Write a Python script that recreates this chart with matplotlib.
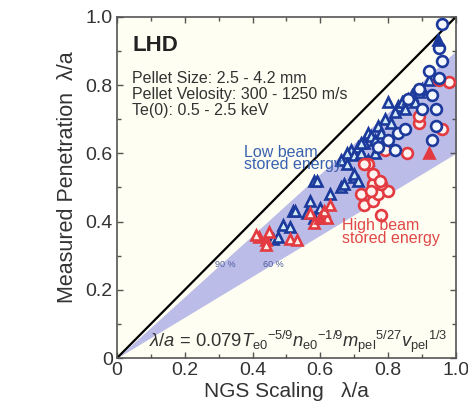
import matplotlib
matplotlib.use("Agg")
import matplotlib.pyplot as plt
import numpy as np

plt.rcParams['font.family'] = ['Liberation Sans', 'DejaVu Sans']
plt.rcParams['mathtext.fontset'] = 'custom'
plt.rcParams['mathtext.rm'] = 'Liberation Sans'
plt.rcParams['mathtext.it'] = 'Liberation Sans:italic'
plt.rcParams['mathtext.bf'] = 'Liberation Sans:bold'

# ---- data ----
tick_vals = [0, 0.2, 0.4, 0.6, 0.8, 1.0]
tick_labels = ["0", "0.2", "0.4", "0.6", "0.8", "1.0"]
band_upper = 0.9   # 90 %
band_lower = 0.6   # 60 %

bc_x = [0.96, 0.95, 0.96, 0.92, 0.95, 0.93, 0.90, 0.94, 0.94, 0.93, 0.83, 0.85, 0.80, 0.77, 0.82, 0.86, 0.89]
bc_y = [0.98, 0.91, 0.87, 0.84, 0.82, 0.77, 0.73, 0.73, 0.68, 0.64, 0.66, 0.67, 0.64, 0.62, 0.61, 0.76, 0.79]

bt_x = [0.46, 0.475, 0.49, 0.51, 0.52, 0.525, 0.56, 0.57, 0.58, 0.58, 0.59, 0.60, 0.63, 0.66, 0.67,
        0.69, 0.70, 0.70, 0.71, 0.71, 0.68, 0.70, 0.72, 0.74, 0.73, 0.75, 0.77, 0.76, 0.78, 0.79,
        0.80, 0.81, 0.83, 0.82, 0.84, 0.86, 0.85, 0.87, 0.88, 0.90, 0.89, 0.92, 0.76, 0.78, 0.74,
        0.66, 0.68, 0.72]
bt_y = [0.35, 0.355, 0.39, 0.385, 0.43, 0.43, 0.425, 0.46, 0.41, 0.52, 0.52, 0.44, 0.48, 0.50, 0.51,
        0.61, 0.53, 0.54, 0.52, 0.62, 0.60, 0.595, 0.60, 0.66, 0.63, 0.65, 0.68, 0.64, 0.66, 0.70,
        0.75, 0.69, 0.74, 0.72, 0.75, 0.76, 0.73, 0.77, 0.75, 0.79, 0.78, 0.815, 0.60, 0.62, 0.58,
        0.58, 0.57, 0.63]

bt_fill_x = [0.947]
bt_fill_y = [0.933]

rt_x = [0.42, 0.44, 0.45, 0.44, 0.41, 0.51, 0.53, 0.58, 0.62, 0.61, 0.63, 0.57]
rt_y = [0.355, 0.345, 0.37, 0.33, 0.36, 0.35, 0.345, 0.395, 0.41, 0.43, 0.45, 0.425]

rt_fill_x = [0.60, 0.92]
rt_fill_y = [0.41, 0.60]

rc_x = [0.72, 0.73, 0.755, 0.77, 0.80, 0.78, 0.755, 0.78, 0.74, 0.755, 0.775, 0.79, 0.855,
        0.89, 0.96, 0.89, 0.98, 0.95, 0.75, 0.73]
rc_y = [0.48, 0.45, 0.46, 0.48, 0.49, 0.51, 0.51, 0.42, 0.57, 0.54, 0.52, 0.61, 0.60,
        0.69, 0.67, 0.71, 0.81, 0.815, 0.49, 0.57]

# ---- figure ----
fig = plt.figure(figsize=(4.68, 4.12), dpi=100)
ax = fig.add_axes([0.25, 0.131, 0.724, 0.828])
ax.set_facecolor('#fefef2')

xs = np.array([0.0, 1.0])
ax.fill_between(xs, band_lower * xs, band_upper * xs, color='#bcbce8', lw=0, zorder=1)
ax.plot(xs, xs, color='black', lw=1.6, zorder=2)

blue = '#1c3a9c'
red = '#e23a40'
ms = 7.8
mew = 1.9
ax.plot(bt_x, bt_y, ls='none', marker='^', ms=ms, mew=mew, mec=blue, mfc='#d4ecf6', zorder=3)
ax.plot(rt_x, rt_y, ls='none', marker='^', ms=ms, mew=mew, mec=red, mfc='#fdeee6', zorder=3)
ax.plot(rc_x, rc_y, ls='none', marker='o', ms=ms, mew=mew, mec=red, mfc='#fff4f0', zorder=3)
ax.plot(bc_x, bc_y, ls='none', marker='o', ms=ms, mew=mew, mec=blue, mfc='#f4f8ff', zorder=4)
ax.plot(bt_fill_x, bt_fill_y, ls='none', marker='^', ms=ms, mew=mew, mec=blue, mfc=blue, zorder=4)
ax.plot(rt_fill_x, rt_fill_y, ls='none', marker='^', ms=ms, mew=mew, mec=red, mfc=red, zorder=4)

ax.set_xlim(0, 1)
ax.set_ylim(0, 1)
ax.set_xticks(tick_vals)
ax.set_xticklabels(tick_labels)
ax.set_yticks(tick_vals)
ax.set_yticklabels(tick_labels)
ax.set_xticks(np.arange(0.1, 1.0, 0.2), minor=True)
ax.set_yticks(np.arange(0.1, 1.0, 0.2), minor=True)
ax.tick_params(which='both', direction='in', top=True, right=True, colors='#555555',
               labelcolor='#333333', labelsize=14)
ax.tick_params(which='major', length=4, width=1, pad=3)
ax.tick_params(which='minor', length=3, width=1)
for s in ax.spines.values():
    s.set_color('#555555')
    s.set_linewidth(1.2)

ax.set_xlabel('NGS Scaling   λ/a', fontsize=15, color='#333333', labelpad=2)
ax.set_ylabel('Measured Penetration  λ/a', fontsize=15.5, color='#333333')
ax.yaxis.set_label_coords(-0.115, 0.53)

ax.text(0.045, 0.915, 'LHD', transform=ax.transAxes, fontsize=16, fontweight='bold',
        color='#222222', va='center')
ax.text(0.045, 0.84, 'Pellet Size: 2.5 - 4.2 mm\nPellet Velosity: 300 - 1250 m/s\nTe(0): 0.5 - 2.5 keV',
        transform=ax.transAxes, fontsize=11.5, color='#333333', va='top', linespacing=1.08)
ax.text(0.375, 0.625, 'Low beam\nstored energy', transform=ax.transAxes, fontsize=11.5,
        color='#3a62b0', va='top', linespacing=0.8)
ax.text(0.665, 0.41, 'High beam\nstored energy', transform=ax.transAxes, fontsize=11.5,
        color='#e04848', va='top', linespacing=0.8)
ax.text(0.29, 0.275, '90 %', transform=ax.transAxes, fontsize=6.5, color='#4a5a9a', va='center')
ax.text(0.43, 0.275, '60 %', transform=ax.transAxes, fontsize=6.5, color='#4a5a9a', va='center')
ax.text(0.095, 0.008,
        r'$\mathit{\lambda/a}$ = 0.079$T_{\rm e0}{}^{-5/9}n_{\rm e0}{}^{-1/9}m_{\rm pel}{}^{5/27}v_{\rm pel}{}^{1/3}$',
        transform=ax.transAxes, fontsize=13.2, color='#333333', va='bottom')

fig.savefig('out.png', dpi=100)
